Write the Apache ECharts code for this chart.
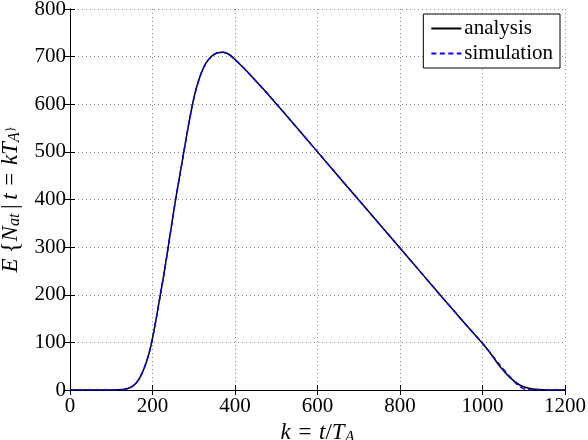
<!DOCTYPE html>
<html>
<head>
<meta charset="utf-8">
<script src="https://cdn.jsdelivr.net/npm/echarts@6/dist/echarts.min.js"></script>
<style>
  html, body { margin: 0; padding: 0; background: #fff; }
  #chart { width: 588px; height: 440px; }
</style>
</head>
<body>
<div id="chart"></div>
<script>
// k values and expected counts
var kAnalysis = [0, 100, 130, 140, 150, 160, 170, 180, 190, 198, 209, 219, 229, 238, 247, 256, 266, 276, 286, 297, 306, 318, 330, 345, 358, 371, 385, 400, 420, 440, 460, 484, 520, 600, 700, 800, 900, 960, 1000, 1020, 1042, 1067, 1091, 1115, 1139, 1160, 1200];
var yAnalysis = [0, 0, 1, 3, 7, 14, 27, 46, 72, 100, 150, 200, 250, 300, 350, 400, 450, 500, 550, 600, 633, 665, 687, 702, 708, 709, 705, 694, 677, 659, 640, 617, 581, 500, 399, 298, 197, 137, 98, 76, 50, 26, 10, 3, 1, 0, 0];

var kSimulation = [0, 100, 130, 140, 150, 160, 170, 180, 190, 198, 209, 219, 229, 238, 247, 256, 266, 276, 286, 297, 306, 318, 330, 345, 358, 371, 385, 400, 420, 440, 460, 484, 520, 600, 700, 800, 900, 960, 1000, 1040, 1070, 1090, 1105, 1120, 1200];
var ySimulation = [0, 0, 1, 3, 7, 14, 27, 46, 72, 100, 150, 200, 250, 300, 350, 400, 450, 500, 550, 600, 633, 665, 687, 702, 708, 709, 705, 694, 677, 659, 640, 617, 581, 500, 399, 298, 197, 137, 98, 55, 24, 7, 1, 0, 0];

var xTicks = [0, 1200, 200];   // min, max, step
var yTicks = [0, 800, 100];

function pairs(xs, ys) {
    var out = [];
    for (var i = 0; i < xs.length; i++) out.push([xs[i], ys[i]]);
    return out;
}

var font = 'Liberation Serif';
var rich = {
    t: { fontFamily: font, fontSize: 21, color: '#000' },
    it: { fontFamily: font, fontStyle: 'italic', fontSize: 23, color: '#000', lineHeight: 24 },
    n: { fontFamily: font, fontSize: 23, color: '#000', lineHeight: 24 },
    br: { fontFamily: font, fontSize: 25, color: '#000', lineHeight: 24 },
    sub: { fontFamily: font, fontStyle: 'italic', fontSize: 16, color: '#000', verticalAlign: 'bottom', lineHeight: 14 }
};

var gridLine = { show: true, lineStyle: { color: '#888', type: [1, 3], width: 1 } };
var axisLine = { show: true, lineStyle: { color: '#000', width: 1 } };
var tick = { show: true, inside: true, length: 5, lineStyle: { color: '#000' } };

function label(margin) {
    return { color: '#000', fontFamily: font, fontSize: 21, margin: margin, rich: rich,
             formatter: function (v) { return '{t|' + v + '}'; } };
}

var myChart = echarts.init(document.getElementById('chart'));

var option = {
    animation: false,
    backgroundColor: '#fff',
    textStyle: { fontFamily: font },
    grid: { left: 70, right: 23, top: 9, bottom: 50, outerBoundsMode: 'none', containLabel: false },
    legend: {
        orient: 'vertical',
        right: 28,
        top: 14,
        data: ['analysis', 'simulation'],
        itemWidth: 30,
        itemHeight: 14,
        itemGap: 4,
        padding: [4, 7, 4, 7],
        backgroundColor: '#fff',
        borderColor: '#000',
        borderWidth: 1,
        borderRadius: 0,
        itemStyle: { opacity: 0 },
        formatter: function (name) { return '{t|' + name + '}'; },
        textStyle: { color: '#000', fontFamily: font, fontSize: 21, rich: rich, padding: [0, 0, 0, -2] }
    },
    xAxis: [
        {
            type: 'value',
            min: xTicks[0], max: xTicks[1], interval: xTicks[2],
            position: 'bottom',
            axisLine: axisLine, axisTick: tick, splitLine: gridLine,
            axisLabel: label(6),
            name: '{it|k}{n|\u2004=\u2004}{it|t}{n|/}{it|T}{sub|A}',
            nameLocation: 'middle',
            nameGap: 12,
            nameTextStyle: { rich: rich }
        },
        {
            type: 'value',
            min: xTicks[0], max: xTicks[1], interval: xTicks[2],
            position: 'top',
            axisLine: axisLine, axisTick: tick,
            axisLabel: { show: false }, splitLine: { show: false }
        }
    ],
    yAxis: [
        {
            type: 'value',
            min: yTicks[0], max: yTicks[1], interval: yTicks[2],
            position: 'left',
            axisLine: axisLine, axisTick: tick, splitLine: gridLine,
            axisLabel: label(4),
            name: '{it|E}{br|\u2009{}{it|N}{sub|at}{n|\u2009|\u2009}{it|t}{n|\u2004=\u2004}{it|kT}{sub|A}{br|}}',
            nameLocation: 'middle',
            nameGap: 22,
            nameTextStyle: { rich: rich }
        },
        {
            type: 'value',
            min: yTicks[0], max: yTicks[1], interval: yTicks[2],
            position: 'right',
            axisLine: axisLine, axisTick: tick,
            axisLabel: { show: false }, splitLine: { show: false }
        }
    ],
    series: [
        {
            name: 'analysis',
            type: 'line',
            data: pairs(kAnalysis, yAnalysis),
            smooth: 0.2,
            symbol: 'none',
            lineStyle: { color: '#000', width: 1.5 },
            itemStyle: { color: '#000' }
        },
        {
            name: 'simulation',
            type: 'line',
            data: pairs(kSimulation, ySimulation),
            smooth: 0.2,
            symbol: 'none',
            lineStyle: { color: '#0000ff', width: 1.5, type: [5, 3.5] },
            itemStyle: { color: '#0000ff' }
        }
    ]
};
myChart.setOption(option);
</script>
</body>
</html>
